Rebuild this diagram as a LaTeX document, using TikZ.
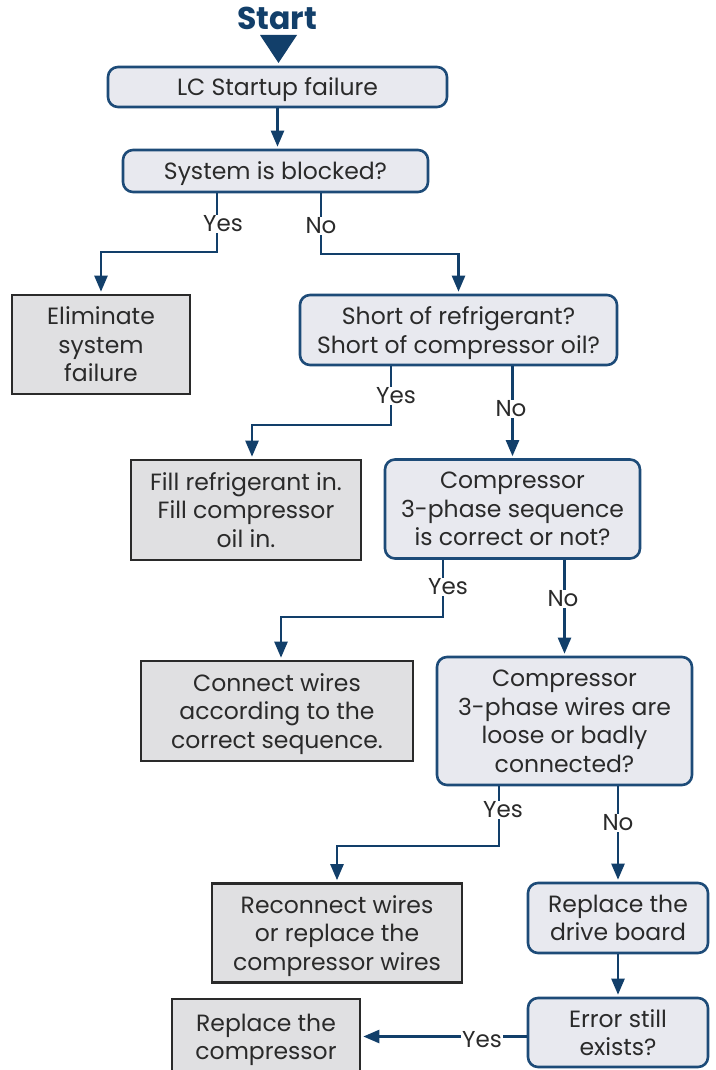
\documentclass[tikz,border=0pt]{standalone}
\usepackage{fontspec}
\setmainfont{Poppins}
\usetikzlibrary{arrows.meta}

\definecolor{navy}{HTML}{123F6A}
\definecolor{edgeblue}{HTML}{1D4B78}
\definecolor{askfill}{HTML}{E8E9EF}
\definecolor{dofill}{HTML}{E0E0E2}
\definecolor{ink}{HTML}{2A2A2A}

\begin{document}
\begin{tikzpicture}[x=1pt, y=-1pt,
  ask/.style={draw=edgeblue, fill=askfill, rounded corners=10pt, line width=2.6pt,
    align=center, text=ink, inner sep=0pt, text depth=-4pt, font=\fontsize{23.5}{28.5}\selectfont},
  act/.style={draw=ink, fill=dofill, line width=2.6pt,
    align=center, text=ink, inner sep=0pt, text depth=-4pt, font=\fontsize{23.5}{28.5}\selectfont},
  flow/.style={draw=navy, line width=2.4pt, -{Triangle[width=13pt,length=16pt]}, shorten >=2pt},
  lbl/.style={fill=white, text=ink, inner sep=1pt, font=\fontsize{23}{24}\selectfont}]
  \useasboundingbox (0,0) rectangle (715,1070);
  \fill[white] (0,0) rectangle (715,1070);

  \node[text=navy, font=\fontsize{31.5}{32}\selectfont\bfseries] (start) at (277,18) {Start};
  \fill[navy] (260,35) -- (297,35) -- (278.5,63) -- cycle;

  % boxes
  \node[ask, minimum width=339pt, minimum height=40pt] (fail) at (277.5,87) {LC Startup failure};
  \node[ask, minimum width=305pt, minimum height=42pt] (blocked) at (275.5,171) {System is blocked?};
  \node[act, minimum width=178pt, minimum height=99pt] (elim) at (101,344.5) {Eliminate\\system\\failure};
  \node[ask, minimum width=317pt, minimum height=70pt] (short) at (458.5,330) {Short of refrigerant?\\Short of compressor oil?};
  \node[act, minimum width=230pt, minimum height=100pt] (fill) at (246,510) {Fill refrigerant in.\\Fill compressor\\oil in.};
  \node[ask, minimum width=255pt, minimum height=99pt] (seq) at (512.5,509) {Compressor\\3-phase sequence\\is correct or not?};
  \node[act, minimum width=272pt, minimum height=100pt] (conn) at (277,711) {Connect wires\\according to the\\correct sequence.};
  \node[ask, minimum width=255pt, minimum height=128pt] (loose) at (564.5,721) {Compressor\\3-phase wires are\\loose or badly\\connected?};
  \node[act, minimum width=250pt, minimum height=99pt] (reconn) at (337,933) {Reconnect wires\\or replace the\\compressor wires};
  \node[ask, minimum width=180pt, minimum height=70pt] (drive) at (618,918) {Replace the\\drive board};
  \node[ask, minimum width=180pt, minimum height=69pt] (err) at (618,1032.5) {Error still\\exists?};
  \node[act, minimum width=188pt, minimum height=76pt] (repl) at (266,1037) {Replace the\\compressor};

  % bends
  \coordinate (yes1) at (217,252);
  \coordinate (no1) at (321,254);
  \coordinate (yes2) at (391,425);
  \coordinate (yes3) at (443,617);
  \coordinate (yes4) at (499,846);

  % connectors
  \draw[flow] (fail.south) -- (fail.south |- blocked.north);
  \draw[flow] (blocked.south -| yes1) -- (yes1) -| (elim.north);
  \draw[flow] (blocked.south -| no1) -- (no1) -| (short.north);
  \draw[flow] (short.south -| yes2) -- (yes2) -| ([xshift=6pt]fill.north);
  \draw[flow] (short.south -| seq.north) -- (seq.north);
  \draw[flow] (seq.south -| yes3) -- (yes3) -| ([xshift=4pt]conn.north);
  \draw[flow] (seq.south -| loose.north) -- (loose.north);
  \draw[flow] (loose.south -| yes4) -- (yes4) -| (reconn.north);
  \draw[flow] (loose.south -| drive.north) -- (drive.north);
  \draw[flow] (drive) -- (err);
  \draw[flow] ([yshift=-4pt]err.west) -- ([yshift=-4pt]err.west -| repl.east);

  % labels
  \node[lbl] (y1) at (223,224) {Yes};
  \node[lbl] (n1) at (321,226) {No};
  \node[lbl] (y2) at (396,396) {Yes};
  \node[lbl] (n2) at (511,409) {No};
  \node[lbl] (y3) at (448,587) {Yes};
  \node[lbl] (n3) at (563,599) {No};
  \node[lbl] (y4) at (503,810) {Yes};
  \node[lbl] (n4) at (618,823) {No};
  \node[lbl] (y5) at (482,1040) {Yes};
\end{tikzpicture}
\end{document}
